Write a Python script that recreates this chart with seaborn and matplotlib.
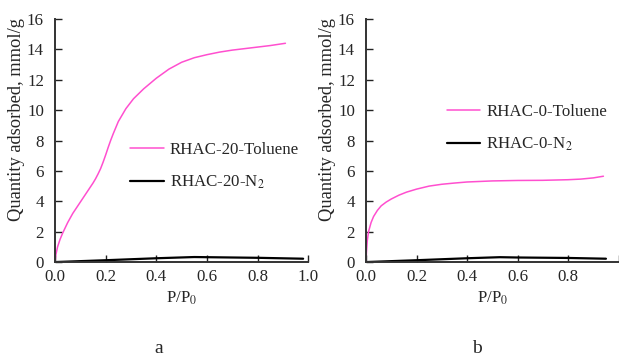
import matplotlib
matplotlib.use("Agg")
import matplotlib.pyplot as plt
import seaborn as sns
import pandas as pd

# ---- data ----
a_tol_x = [0, 0.003, 0.01, 0.02, 0.03, 0.05, 0.07, 0.09, 0.11, 0.13, 0.15, 0.16, 0.17, 0.18, 0.19, 0.20, 0.21,
           0.22, 0.23, 0.25, 0.28, 0.31, 0.35, 0.40, 0.45, 0.50, 0.55, 0.60, 0.65, 0.70, 0.75, 0.80, 0.85, 0.91]
a_tol_y = [0, 0.45, 1.0, 1.5, 1.9, 2.6, 3.2, 3.7, 4.2, 4.7, 5.2, 5.48, 5.8, 6.15, 6.58, 7.05, 7.55,
           8.02, 8.45, 9.25, 10.1, 10.75, 11.4, 12.1, 12.7, 13.15, 13.45, 13.65, 13.82, 13.95, 14.05, 14.15, 14.25, 14.4]
a_n2_x = [0, 0.2, 0.4, 0.55, 0.6, 0.8, 0.98]
a_n2_y = [0, 0.12, 0.25, 0.33, 0.32, 0.28, 0.22]

b_tol_x = [0, 0.002, 0.005, 0.01, 0.02, 0.03, 0.045, 0.06, 0.08, 0.10, 0.13, 0.16, 0.2, 0.25, 0.3, 0.35,
           0.4, 0.5, 0.6, 0.7, 0.8, 0.85, 0.9, 0.94]
b_tol_y = [0, 0.7, 1.4, 2.0, 2.6, 3.0, 3.4, 3.7, 3.95, 4.15, 4.4, 4.6, 4.8, 5.0, 5.12, 5.2,
           5.27, 5.34, 5.37, 5.38, 5.42, 5.46, 5.54, 5.65]
b_n2_x = [0, 0.2, 0.4, 0.53, 0.6, 0.8, 0.95]
b_n2_y = [0, 0.12, 0.25, 0.32, 0.3, 0.27, 0.22]

labels_a = ["RHAC-20-Toluene", "RHAC-20-N$_2$"]
labels_b = ["RHAC-0-Toluene", "RHAC-0-N$_2$"]
xticks = [0.0, 0.2, 0.4, 0.6, 0.8, 1.0]
xticklabels_a = ["0.0", "0.2", "0.4", "0.6", "0.8", "1.0"]
xticklabels_b = ["0.0", "0.2", "0.4", "0.6", "0.8", ""]
yticks = [0, 2, 4, 6, 8, 10, 12, 14, 16]
panel_labels = ["a", "b"]

sns.set_style("ticks")
plt.rcParams["font.family"] = ["Liberation Serif", "DejaVu Serif"]
plt.rcParams["mathtext.fontset"] = "stix"

fig = plt.figure(figsize=(6.19, 3.58), dpi=100)
ax_a = fig.add_axes([0.0889, 0.268, 0.409, 0.679])
ax_b = fig.add_axes([0.5913, 0.268, 0.408, 0.679])

pink = "#ff4fcf"
FS = 12.2

def panel(ax, tx, ty, nx, ny, labels, xtl, leg_anchor, plabel, plabel_x):
    dft = pd.DataFrame({"x": tx, "y": ty})
    dfn = pd.DataFrame({"x": nx, "y": ny})
    sns.lineplot(data=dft, x="x", y="y", ax=ax, color=pink, lw=1.1, sort=False, estimator=None, label=labels[0])
    sns.lineplot(data=dfn, x="x", y="y", ax=ax, color="black", lw=1.6, sort=False, estimator=None, label=labels[1])
    ax.set_xlim(0, 1.0)
    ax.set_ylim(0, 16)
    ax.set_xticks(xticks)
    ax.set_xticklabels(xtl)
    ax.set_yticks(yticks)
    ax.tick_params(direction="in", length=5, width=1.0, labelsize=FS, color="#222222")
    ax.tick_params(axis="x", pad=5)
    ax.tick_params(axis="y", pad=8)
    for s in ["top", "right"]:
        ax.spines[s].set_visible(False)
    for s in ["left", "bottom"]:
        ax.spines[s].set_linewidth(1.4)
        ax.spines[s].set_color("#333333")
    ax.set_xlabel("P/P$_0$", fontsize=FS, labelpad=3)
    ax.set_ylabel("Quantity adsorbed, mmol/g", fontsize=13.3, labelpad=2)
    ax.yaxis.set_label_coords(-0.12, 0.585)
    ax.legend(loc="upper left", bbox_to_anchor=leg_anchor, frameon=False, fontsize=FS,
              handlelength=2.0, handletextpad=0.35, labelspacing=0.93, borderaxespad=0,
              borderpad=0)
    fig.text(plabel_x, 0.004, plabel, fontsize=14, ha="center", va="bottom")

panel(ax_a, a_tol_x, a_tol_y, a_n2_x, a_n2_y, labels_a, xticklabels_a, (0.296, 0.495), panel_labels[0], 0.257)
panel(ax_b, b_tol_x, b_tol_y, b_n2_x, b_n2_y, labels_b, xticklabels_b, (0.319, 0.65), panel_labels[1], 0.771)

fig.savefig("out.png", dpi=100)
